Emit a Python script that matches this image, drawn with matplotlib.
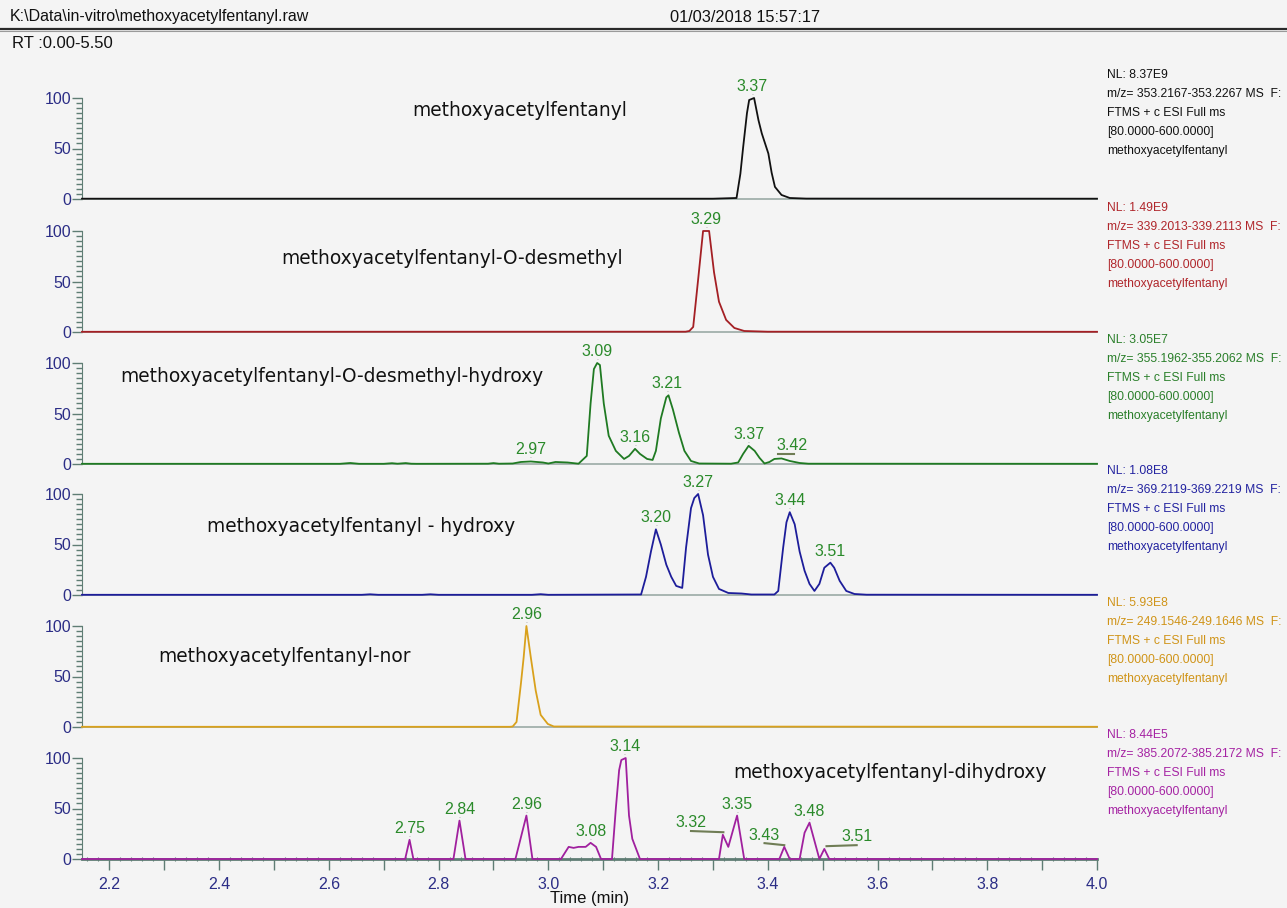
import matplotlib
matplotlib.use("Agg")
import matplotlib.pyplot as plt
from matplotlib.ticker import MultipleLocator, FuncFormatter, FixedLocator
from matplotlib.lines import Line2D

# ---------------- data ----------------
p1_t = [2.15, 3.30, 3.343, 3.350, 3.355, 3.362, 3.366, 3.375, 3.383, 3.389, 3.401, 3.407, 3.413, 3.425, 3.440, 3.470, 4.00]
p1_y = [0.3, 0.3, 1, 25, 51, 85, 98, 100, 78, 65, 45, 26, 12, 4, 1, 0.4, 0.3]

p2_t = [2.15, 3.250, 3.257, 3.264, 3.273, 3.282, 3.293, 3.302, 3.311, 3.324, 3.339, 3.357, 3.40, 4.00]
p2_y = [0.2, 0.3, 1, 5, 52, 100, 100, 59, 30, 12, 4, 1, 0.3, 0.2]

p3_t = [2.15, 2.62, 2.639, 2.655, 2.70, 2.715, 2.725, 2.74, 2.75, 2.76, 2.89, 2.90, 2.91, 2.935,
        2.950, 2.968, 2.990, 3.000, 3.013, 3.035, 3.055, 3.070, 3.077, 3.083, 3.089, 3.094, 3.101,
        3.110, 3.123, 3.138, 3.147, 3.158, 3.167, 3.180, 3.190, 3.196, 3.205, 3.215, 3.219, 3.227,
        3.238, 3.248, 3.260, 3.275, 3.333, 3.346, 3.355, 3.365, 3.376, 3.385, 3.394, 3.403, 3.412,
        3.425, 3.440, 3.458, 3.474, 4.0]
p3_y = [0.2, 0.2, 1.0, 0.2, 0.2, 0.8, 0.3, 0.9, 0.3, 0.2, 0.3, 0.9, 0.3, 0.5,
        2.0, 2.5, 1.5, 0.5, 2.0, 1.5, 0.3, 8, 60, 94, 100, 98, 60,
        28, 13, 5, 8, 15, 10, 5, 4, 13, 45, 66, 68, 54,
        31, 13, 3, 0.5, 0.3, 1.5, 10, 18, 13, 6, 0.5, 2, 5,
        5.5, 3, 1, 0.3, 0.2]

p4_t = [2.15, 2.66, 2.675, 2.69, 2.77, 2.785, 2.80, 2.97, 2.986, 3.00, 3.169, 3.178, 3.187, 3.196,
        3.205, 3.215, 3.224, 3.233, 3.244, 3.251, 3.260, 3.266, 3.273, 3.282, 3.291, 3.300, 3.311,
        3.328, 3.352, 3.370, 3.412, 3.419, 3.428, 3.434, 3.440, 3.449, 3.458, 3.467, 3.476, 3.485,
        3.494, 3.503, 3.514, 3.521, 3.531, 3.543, 3.558, 3.58, 4.0]
p4_y = [0.2, 0.2, 0.7, 0.2, 0.2, 0.7, 0.2, 0.2, 0.8, 0.2, 0.5, 18, 43, 65,
        50, 30, 18, 9, 7, 47, 86, 96, 100, 79, 40, 18, 6,
        2, 1.5, 0.5, 0.5, 4, 47, 72, 82, 70, 43, 24, 11, 4,
        11, 27, 32, 27, 14, 4, 1, 0.3, 0.2]

p5_t = [2.15, 2.93, 2.935, 2.942, 2.950, 2.955, 2.960, 2.968, 2.977, 2.986, 2.999, 3.010, 4.0]
p5_y = [0.2, 0.2, 0.5, 5, 43, 69, 100, 69, 36, 12, 3, 0.5, 0.2]

p6_t = [2.15, 2.739, 2.747, 2.754, 2.827, 2.838, 2.849, 2.940, 2.960, 2.971, 3.023, 3.037, 3.046,
        3.055, 3.068, 3.077, 3.087, 3.096, 3.116, 3.123, 3.129, 3.133, 3.141, 3.147, 3.153, 3.160,
        3.167, 3.311, 3.318, 3.328, 3.344, 3.357, 3.421, 3.430, 3.440, 3.458, 3.467, 3.476, 3.494,
        3.503, 3.512, 4.0]
p6_y = [0, 0, 19, 0, 0, 38, 0, 0, 43, 0, 0, 12, 11,
        12, 12, 16, 12, 0, 0, 50, 88, 98, 100, 43, 20, 10,
        0, 0, 24, 12, 43, 0, 0, 12, 0, 0, 26, 36, 0,
        10, 0, 0]

compound_names = ["methoxyacetylfentanyl",
                  "methoxyacetylfentanyl-O-desmethyl",
                  "methoxyacetylfentanyl-O-desmethyl-hydroxy",
                  "methoxyacetylfentanyl - hydroxy",
                  "methoxyacetylfentanyl-nor",
                  "methoxyacetylfentanyl-dihydroxy"]
nl_values = ["8.37E9", "1.49E9", "3.05E7", "1.08E8", "5.93E8", "8.44E5"]
mz_ranges = ["353.2167-353.2267", "339.2013-339.2113", "355.1962-355.2062",
             "369.2119-369.2219", "249.1546-249.1646", "385.2072-385.2172"]

# peak labels: (time, height, text)
peak_labels = [
    [(3.371, 100, "3.37")],
    [(3.288, 100, "3.29")],
    [(2.968, 2.5, "2.97"), (3.089, 100, "3.09"), (3.158, 15, "3.16"), (3.217, 68, "3.21"), (3.365, 18, "3.37")],
    [(3.196, 65, "3.20"), (3.273, 100, "3.27"), (3.440, 82, "3.44"), (3.514, 32, "3.51")],
    [(2.960, 100, "2.96")],
    [(2.747, 19, "2.75"), (2.838, 38, "2.84"), (2.960, 43, "2.96"), (3.077, 16, "3.08"),
     (3.139, 100, "3.14"), (3.344, 43, "3.35"), (3.476, 36, "3.48")],
]
# labels drawn away from their peak with a leader line: (panel, text, text_t, text_y, line_t, line_y)
offset_labels = [
    (2, "3.42", 3.445, 18, [3.419, 3.447], [10, 10]),
    (5, "3.32", 3.260, 36, [3.260, 3.319], [27.7, 26.5]),
    (5, "3.43", 3.394, 23.5, [3.394, 3.430], [15.7, 13.7]),
    (5, "3.51", 3.562, 22.5, [3.507, 3.562], [12.7, 13.7]),
]

traces_t = [p1_t, p2_t, p3_t, p4_t, p5_t, p6_t]
traces_y = [p1_y, p2_y, p3_y, p4_y, p5_y, p6_y]

# ---------------- style ----------------
W, H = 1287, 908
bg = "#f4f4f4"
trace_colors = ["#111111", "#a41f24", "#1f7a22", "#1d1d9a", "#d9a11c", "#a0209e"]
text_colors = ["#111111", "#b0262b", "#2a7f2a", "#2323a0", "#d09418", "#a523a3"]
label_green = "#2a8a2a"
spine_col = "#5f7d74"
tick_lab_col = "#2b2d86"
zero_px = [199, 332, 464, 595, 727, 859]
name_pos = [(412, 110), (281, 258), (120, 377), (207, 527), (158, 656), (733, 773)]
name_font = "DejaVu Sans"
sans = ["Liberation Sans", "DejaVu Sans"]

plt.rcParams["font.family"] = sans

fig = plt.figure(figsize=(W / 100, H / 100), dpi=100, facecolor=bg)

x0, x1 = 82, 1097
ymax = 130
px_per_unit = 1.01
minor_y = [v for v in range(5, 100, 5) if v != 50]

for i in range(6):
    ax_h = ymax * px_per_unit
    ax = fig.add_axes([x0 / W, (H - zero_px[i]) / H, (x1 - x0) / W, ax_h / H])
    ax.set_facecolor("none")
    ax.set_xlim(2.15, 4.0)
    ax.set_ylim(0, ymax)
    ax.plot(traces_t[i], traces_y[i], color=trace_colors[i], lw=1.3, clip_on=False, zorder=3)
    for s in ["top", "right"]:
        ax.spines[s].set_visible(False)
    ax.spines["left"].set_bounds(0, 100)
    ax.spines["left"].set_color(spine_col)
    ax.spines["bottom"].set_color(spine_col if i == 5 else "#9aaaa5")
    ax.spines["bottom"].set_linewidth(2.0 if i == 5 else 1.2)
    ax.set_yticks([0, 50, 100])
    ax.yaxis.set_minor_locator(FixedLocator(minor_y))
    ax.tick_params(axis="y", which="major", length=7, width=1, color=spine_col,
                   labelcolor=tick_lab_col, labelsize=11.5, pad=1)
    ax.tick_params(axis="y", which="minor", length=4, width=1, color=spine_col)
    if i == 5:
        ax.xaxis.set_major_locator(MultipleLocator(0.1))
        ax.xaxis.set_minor_locator(MultipleLocator(0.02))
        ax.xaxis.set_major_formatter(FuncFormatter(
            lambda v, p: ("%.1f" % v) if abs(round(v * 5) - v * 5) < 1e-6 else ""))
        ax.tick_params(axis="x", which="major", length=8, width=1, color=spine_col,
                       labelcolor=tick_lab_col, labelsize=11.5, pad=5)
        ax.tick_params(axis="x", which="minor", length=3, width=0.8, color=spine_col,
                       direction="inout")
    else:
        ax.tick_params(axis="x", which="both", length=0, labelbottom=False)

    # peak labels
    for (t, h, s) in peak_labels[i]:
        ax.annotate(s, xy=(t, h), xytext=(0, 7), textcoords="offset pixels",
                    ha="center", va="baseline", fontsize=11.5, color=label_green,
                    annotation_clip=False, zorder=5)
        ax.annotate(".", xy=(t, h), xytext=(0, 1), textcoords="offset pixels",
                    ha="center", va="bottom", fontsize=5, color="#8a8a8a",
                    annotation_clip=False)
    for (pi, s, tt, ty, lt, ly) in offset_labels:
        if pi == i:
            ax.text(tt, ty, s, ha="center", va="center", fontsize=11.5, color=label_green, zorder=5)
            ax.plot(lt, ly, color="#6f7d55", lw=1.5, clip_on=False)

    # compound name
    nx, ny = name_pos[i]
    fig.text(nx / W, 1 - ny / H, compound_names[i], ha="left", va="center",
             fontsize=13.4, family=name_font, color="#111111")

    # right info block
    lines = ["NL: " + nl_values[i], "m/z= " + mz_ranges[i] + " MS  F:",
             "FTMS + c ESI Full ms", "[80.0000-600.0000]", "methoxyacetylfentanyl"]
    base_y = zero_px[i] - 124
    for k, ln in enumerate(lines):
        fig.text(1107 / W, 1 - (base_y + k * 19) / H, ln, ha="left", va="center",
                 fontsize=8.7, color=text_colors[i])

# header
fig.text(10 / W, 1 - 17 / H, r"K:\Data\in-vitro\methoxyacetylfentanyl.raw", ha="left", va="center",
         fontsize=11.5, color="#111111")
fig.text(670 / W, 1 - 17 / H, "01/03/2018 15:57:17", ha="left", va="center",
         fontsize=11.8, color="#111111")
fig.text(12 / W, 1 - 43 / H, "RT :0.00-5.50", ha="left", va="center",
         fontsize=12, color="#111111")
fig.add_artist(Line2D([0, 1], [1 - 29 / H, 1 - 29 / H], transform=fig.transFigure,
                      color="#2a2a2a", lw=1.6))
fig.add_artist(Line2D([0, 1], [1 - 31 / H, 1 - 31 / H], transform=fig.transFigure,
                      color="#9a9a9a", lw=0.8))
fig.text(590 / W, 1 - 899 / H, "Time (min)", ha="center", va="center",
         fontsize=12, color="#111111")

fig.savefig("out.png", dpi=100, facecolor=bg)
